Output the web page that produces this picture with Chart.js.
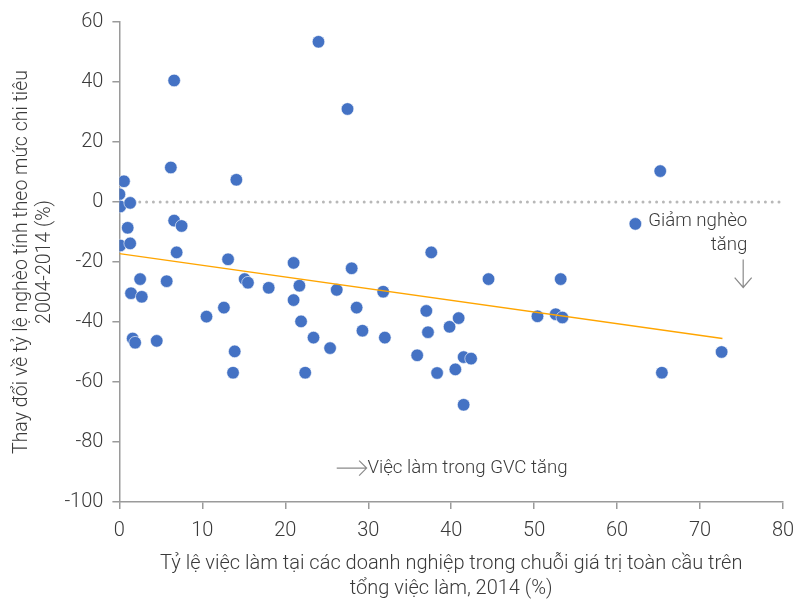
<!DOCTYPE html>
<html>
<head>
<meta charset="utf-8">
<script src="https://cdn.jsdelivr.net/npm/chart.js@4"></script>
<style>
  body { margin: 0; background: #fff; }
  #wrap { width: 798px; height: 601px; position: relative; }
</style>
</head>
<body>
<div id="wrap"><canvas id="chart"></canvas></div>
<script>
// GVC employment share (x) vs change in poverty rate (y), one point per province
const gvcShare = [
  0.0, 0.55, 0.1, 1.3, 1.0, 0.1, 1.3, 1.4, 2.7, 2.5, 1.6, 1.9, 4.5, 5.7,
  6.6, 6.2, 6.6, 7.5, 6.9, 10.5, 12.6, 13.1, 13.9, 13.7, 14.1, 15.1, 15.5,
  18.0, 21.0, 21.7, 21.0, 21.9, 22.4, 23.4, 24.0, 25.4, 26.2, 27.5, 28.0,
  28.6, 29.3, 31.8, 32.0, 35.9, 37.6, 37.0, 37.2, 38.3, 39.8, 40.9, 40.5,
  41.5, 42.4, 41.5, 44.5, 50.4, 52.6, 53.4, 53.2, 62.2, 65.2, 65.4, 72.6
]
const povertyChange = [
  2.6, 6.9, -1.5, -0.3, -8.6, -14.5, -13.8, -30.4, -31.6, -25.7, -45.5, -46.9, -46.3, -26.4,
  40.5, 11.5, -6.2, -8.0, -16.8, -38.2, -35.2, -19.1, -49.8, -56.9, 7.4, -25.7, -26.9,
  -28.6, -20.3, -27.9, -32.7, -39.8, -56.9, -45.2, 53.4, -48.7, -29.3, 31.0, -22.1,
  -35.2, -42.9, -29.9, -45.2, -51.1, -16.8, -36.3, -43.4, -57.0, -41.6, -38.7, -55.8,
  -51.7, -52.2, -67.6, -25.7, -38.1, -37.4, -38.5, -25.7, -7.3, 10.3, -56.9, -50.0
]

// Trend line end points
const trendX = [0, 72.7]
const trendY = [-17.2, -45.5]

// Axis ticks
const xTicks = [0, 10, 20, 30, 40, 50, 60, 70, 80]
const yTicks = [-100, -80, -60, -40, -20, 0, 20, 40, 60]

const axisColor = "#9a9a9a"
const textColor = "#3a3a3a"
const fontFamily = "Roboto, 'Liberation Sans', sans-serif"

// Annotation text and arrows, positioned in data units
const annotations = {
  id: "annotations",
  afterDatasetsDraw(chart) {
    const { ctx, scales } = chart
    const px = (v) => scales.x.getPixelForValue(v)
    const py = (v) => scales.y.getPixelForValue(v)

    ctx.save()
    ctx.fillStyle = textColor
    ctx.font = "300 18.7px " + fontFamily
    ctx.textBaseline = "middle"

    // "Giảm nghèo tăng" with down arrow
    ctx.textAlign = "right"
    ctx.fillText("Giảm nghèo", px(75.7), py(-6.5))
    ctx.fillText("tăng", px(75.7), py(-14.6))

    ctx.strokeStyle = "#8a8a8a"
    ctx.lineWidth = 1.2
    const ax = px(75.2)
    ctx.beginPath()
    ctx.moveTo(ax, py(-19.2))
    ctx.lineTo(ax, py(-28.5))
    ctx.moveTo(ax - 8.5, py(-25.2))
    ctx.lineTo(ax, py(-28.5))
    ctx.lineTo(ax + 8.5, py(-25.2))
    ctx.stroke()

    // "Việc làm trong GVC tăng" with right arrow
    const ay = py(-88.7)
    ctx.beginPath()
    ctx.moveTo(px(26.2), ay)
    ctx.lineTo(px(29.8), ay)
    ctx.moveTo(px(28.9), ay - 7.5)
    ctx.lineTo(px(29.8), ay)
    ctx.lineTo(px(28.9), ay + 7.5)
    ctx.stroke()

    ctx.textAlign = "left"
    ctx.fillText("Việc làm trong GVC tăng", px(29.9), ay)
    ctx.restore()
  },
}

const points = gvcShare.map((x, i) => ({ x: x, y: povertyChange[i] }))
const trend = trendX.map((x, i) => ({ x: x, y: trendY[i] }))
const zeroLine = [{ x: xTicks[0], y: 0 }, { x: xTicks[xTicks.length - 1], y: 0 }]

const ctx = document.getElementById("chart").getContext("2d")
new Chart(ctx, {
  type: "scatter",
  data: {
    datasets: [
      {
        type: "line",
        data: trend,
        borderColor: "#FFA500",
        borderWidth: 1.3,
        pointRadius: 0,
        order: 0,
      },
      {
        data: points,
        backgroundColor: "#4472C4",
        borderColor: "#ffffff",
        borderWidth: 0.6,
        pointRadius: 6.3,
        order: 1,
      },
      {
        type: "line",
        data: zeroLine,
        borderColor: "#b8b8b8",
        borderWidth: 3,
        borderDash: [0, 6.8],
        borderCapStyle: "round",
        pointRadius: 0,
        order: 2,
      },
    ],
  },
  options: {
    responsive: true,
    maintainAspectRatio: false,
    animation: false,
    layout: { padding: { left: 0, right: 15, top: 22, bottom: 0 } },
    plugins: {
      legend: { display: false },
      tooltip: { enabled: false },
    },
    scales: {
      x: {
        type: "linear",
        min: xTicks[0],
        max: xTicks[xTicks.length - 1],
        afterBuildTicks: (scale) => {
          scale.ticks = xTicks.map((v) => ({ value: v }))
        },
        afterFit: (scale) => {
          scale.height = 99
          scale.paddingLeft = 0
          scale.paddingRight = 0
        },
        ticks: {
          color: textColor,
          padding: 10,
          font: { family: fontFamily, size: 20, weight: 300 },
        },
        grid: {
          drawOnChartArea: false,
          tickLength: 7,
          color: axisColor,
          lineWidth: 1.5,
        },
        border: { color: axisColor, width: 1.5 },
        title: {
          display: true,
          text: ["Tỷ lệ việc làm tại các doanh nghiệp trong chuỗi giá trị toàn cầu trên", "tổng việc làm, 2014 (%)"],
          color: textColor,
          padding: { top: 0, bottom: 0 },
          font: { family: fontFamily, size: 20, weight: 300, lineHeight: 1.25 },
        },
      },
      y: {
        type: "linear",
        min: yTicks[0],
        max: yTicks[yTicks.length - 1],
        afterBuildTicks: (scale) => {
          scale.ticks = yTicks.map((v) => ({ value: v }))
        },
        afterFit: (scale) => {
          scale.width = 119.4
        },
        ticks: {
          color: textColor,
          padding: 9,
          font: { family: fontFamily, size: 20, weight: 300 },
        },
        grid: {
          drawOnChartArea: false,
          tickLength: 7,
          color: axisColor,
          lineWidth: 1.5,
        },
        border: { color: axisColor, width: 1.5 },
        title: {
          display: true,
          text: ["Thay đổi về tỷ lệ nghèo tính theo mức chi tiêu", "2004-2014 (%)"],
          color: textColor,
          padding: { top: 10.5, bottom: 0 },
          font: { family: fontFamily, size: 19.5, weight: 300, lineHeight: 1.18 },
        },
      },
    },
  },
  plugins: [annotations],
})
</script>
</body>
</html>
